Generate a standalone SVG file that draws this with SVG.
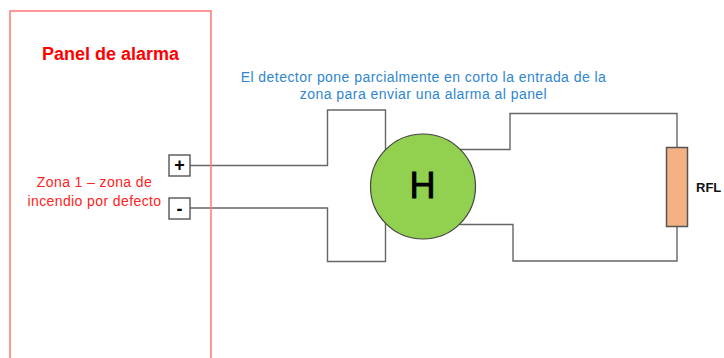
<svg xmlns="http://www.w3.org/2000/svg" width="724" height="358" viewBox="0 0 724 358">
<style>
text{font-family:"Liberation Sans",Arial,sans-serif}
.w{fill:none;stroke:#666;stroke-width:1.4}
.t{fill:#fff;stroke:#555;stroke-width:1.4}
.red{fill:#f22;font-size:14px;letter-spacing:.4px}
.blue{fill:#2f86d0;font-size:14px;letter-spacing:.45px}
</style>
<rect width="724" height="358" fill="#fff"/>
<g id="connectors">
<polyline class="w" points="190,165.500 327.500,165.500 327.500,110 385.500,110 385.500,160"/>
<polyline class="w" points="190,208 327.500,208 327.500,261.500 385.500,261.500 385.500,210"/>
<polyline class="w" points="460,149.500 510,149.500 510,113.500 677,113.500 677,148"/>
<polyline class="w" points="460,224.500 513,224.500 513,261 677,261 677,226"/>
</g>
<g id="panel">
<rect x="10" y="11" width="201" height="360" fill="none" stroke="#f77" stroke-width="1.500"/>
<text x="110.500" y="60" text-anchor="middle" font-size="18" font-weight="bold" fill="#f00">Panel de alarma</text>
<text class="red" x="94.500" y="187" text-anchor="middle">Zona 1 – zona de</text>
<text class="red" x="94.500" y="205.500" text-anchor="middle">incendio por defecto</text>
</g>
<g id="terminal-plus">
<rect class="t" x="169" y="155" width="21" height="21"/>
<text x="179.500" y="171" text-anchor="middle" font-size="18" font-weight="bold" fill="#000">+</text>
</g>
<g id="terminal-minus">
<rect class="t" x="169" y="198" width="21" height="21"/>
<text x="179.500" y="214.500" text-anchor="middle" font-size="18" font-weight="bold" fill="#000">-</text>
</g>
<g id="note">
<text class="blue" x="423.500" y="82" text-anchor="middle">El detector pone parcialmente en corto la entrada de la</text>
<text class="blue" x="423.500" y="99" text-anchor="middle">zona para enviar una alarma al panel</text>
</g>
<g id="detector">
<circle cx="423" cy="186.500" r="52.500" fill="#92d050" stroke="#444" stroke-width="1.200"/>
<text x="422.500" y="198" text-anchor="middle" font-size="36" fill="#000" stroke="#000" stroke-width=".9">H</text>
</g>
<g id="rfl">
<rect x="666.500" y="147.500" width="21" height="79" fill="#f4b183" stroke="#555" stroke-width="1.500"/>
<text x="696" y="192" font-size="13" font-weight="bold" fill="#111">RFL</text>
</g>
</svg>
